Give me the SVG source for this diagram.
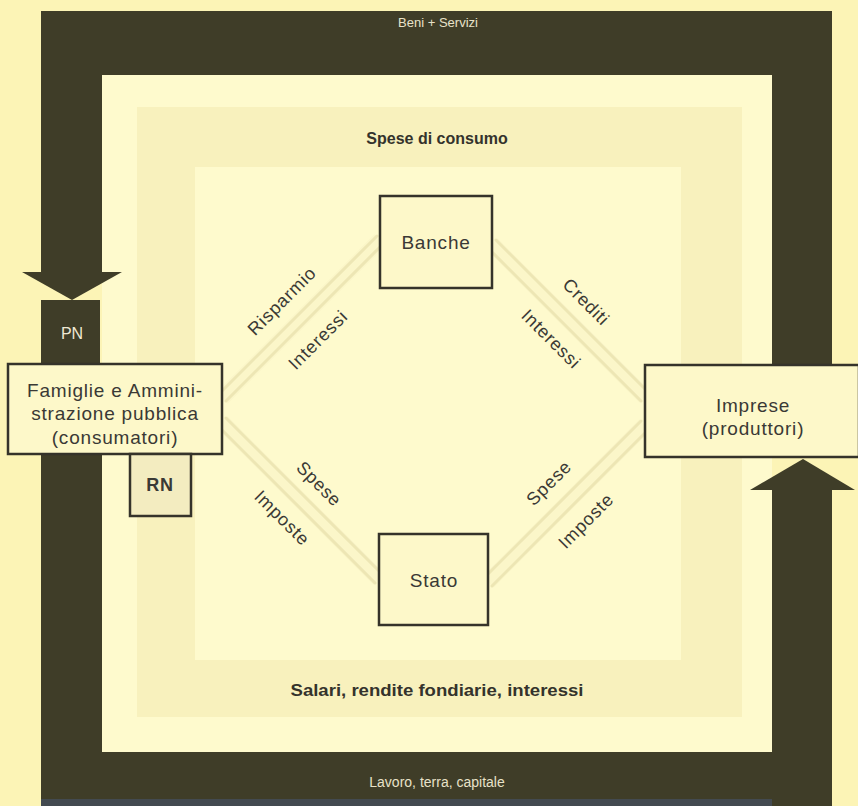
<svg xmlns="http://www.w3.org/2000/svg" width="858" height="806" viewBox="0 0 858 806">
<style>
.dark{fill:#3f3d28}
.box{fill:#fdf8c9;stroke:#35332a;stroke-width:2.5}
.t{font-family:"Liberation Sans",Arial,sans-serif;font-size:19px;letter-spacing:0.8px;fill:#3a3935;text-anchor:middle;dominant-baseline:central}
.lbl{font-family:"Liberation Sans",Arial,sans-serif;font-size:18px;letter-spacing:0.8px;fill:#3a3935;text-anchor:middle;dominant-baseline:central}
.light{font-family:"Liberation Sans",Arial,sans-serif;fill:#e8e2c8;text-anchor:middle;dominant-baseline:central}
.flow{font-family:"Liberation Sans",Arial,sans-serif;font-weight:bold;fill:#34332c;text-anchor:middle;dominant-baseline:central}
.stripe{stroke:#ede6b4;stroke-width:3;fill:none;stroke-linecap:round}
.band{stroke:#fbf6c9;stroke-width:16;fill:none}
</style>
<rect width="858" height="806" fill="#fcf4b6"/>
<!-- inner light area -->
<rect x="102" y="75" width="670" height="677" fill="#fefacd"/>
<!-- flow ring -->
<path d="M137,107 H742 V717 H137 Z M195,167 V660 H681 V167 Z" fill="#f8f1bd" fill-rule="evenodd"/>
<rect x="195" y="167" width="486" height="493" fill="#fefacd"/>
<text class="flow" x="437" y="138" style="font-size:16px">Spese di consumo</text>
<text class="flow" x="437" y="690" style="font-size:17px" textLength="293" lengthAdjust="spacingAndGlyphs">Salari, rendite fondiarie, interessi</text>

<!-- outer dark circuit -->
<g id="circuit">
<rect class="dark" x="41" y="11" width="791" height="64"/>
<rect class="dark" x="41" y="11" width="61" height="261"/>
<polygon class="dark" points="22,272 122,272 72,300"/>
<rect class="dark" x="772" y="11" width="60" height="354"/>
<rect class="dark" x="41" y="454" width="61" height="352"/>
<rect class="dark" x="41" y="752" width="791" height="54"/>
<rect x="41" y="799" width="791" height="7" fill="#434a50"/>
<rect class="dark" x="772" y="490" width="60" height="316"/>
<polygon class="dark" points="750,490 855,490 803,459"/>
<text class="light" x="438" y="22" style="font-size:13px">Beni + Servizi</text>
<text class="light" x="437" y="782" style="font-size:14px">Lavoro, terra, capitale</text>
</g>

<g id="connectors">
<line class="band" x1="222" y1="398" x2="380" y2="240"/>
<line class="stripe" x1="226" y1="401" x2="383" y2="244"/>
<line class="stripe" x1="219" y1="394" x2="377" y2="236"/>
<line class="band" x1="492" y1="244" x2="645" y2="397"/>
<line class="stripe" x1="488" y1="248" x2="641" y2="401"/>
<line class="stripe" x1="496" y1="240" x2="649" y2="393"/>
<line class="band" x1="222" y1="422" x2="379" y2="579"/>
<line class="stripe" x1="218" y1="426" x2="375" y2="583"/>
<line class="stripe" x1="226" y1="418" x2="383" y2="575"/>
<line class="band" x1="488" y1="582" x2="645" y2="425"/>
<line class="stripe" x1="484" y1="578" x2="641" y2="421"/>
<line class="stripe" x1="492" y1="586" x2="649" y2="429"/>
<text class="lbl" transform="translate(282,301) rotate(-45)">Risparmio</text>
<text class="lbl" transform="translate(318,340) rotate(-45)">Interessi</text>
<text class="lbl" transform="translate(586,302) rotate(45)">Crediti</text>
<text class="lbl" transform="translate(551,339) rotate(45)">Interessi</text>
<text class="lbl" transform="translate(319,484) rotate(45)">Spese</text>
<text class="lbl" transform="translate(282,518) rotate(45)">Imposte</text>
<text class="lbl" transform="translate(549,483) rotate(-45)">Spese</text>
<text class="lbl" transform="translate(586,521) rotate(-45)">Imposte</text>
</g>

<g id="pn">
<rect class="dark" x="41" y="300" width="59" height="64"/>
<text class="light" x="72" y="333" style="font-size:16px;fill:#efe9d4">PN</text>
</g>
<g id="famiglie">
<rect class="box" x="8" y="364" width="214" height="90"/>
<text class="t" x="115" y="390">Famiglie e Ammini-</text>
<text class="t" x="115" y="413">strazione pubblica</text>
<text class="t" x="115" y="437">(consumatori)</text>
</g>
<g id="rn">
<rect class="box" x="130" y="454" width="61" height="62" style="fill:#f3ecc0"/>
<text class="t" x="160" y="485" style="font-weight:bold;font-size:18px">RN</text>
</g>
<g id="banche">
<rect class="box" x="380" y="196" width="112" height="92"/>
<text class="t" x="436" y="242">Banche</text>
</g>
<g id="stato">
<rect class="box" x="379" y="534" width="109" height="91"/>
<text class="t" x="434" y="580">Stato</text>
</g>
<g id="imprese">
<rect class="box" x="645" y="365" width="214" height="92"/>
<text class="t" x="753" y="405">Imprese</text>
<text class="t" x="753" y="428">(produttori)</text>
</g>
</svg>
